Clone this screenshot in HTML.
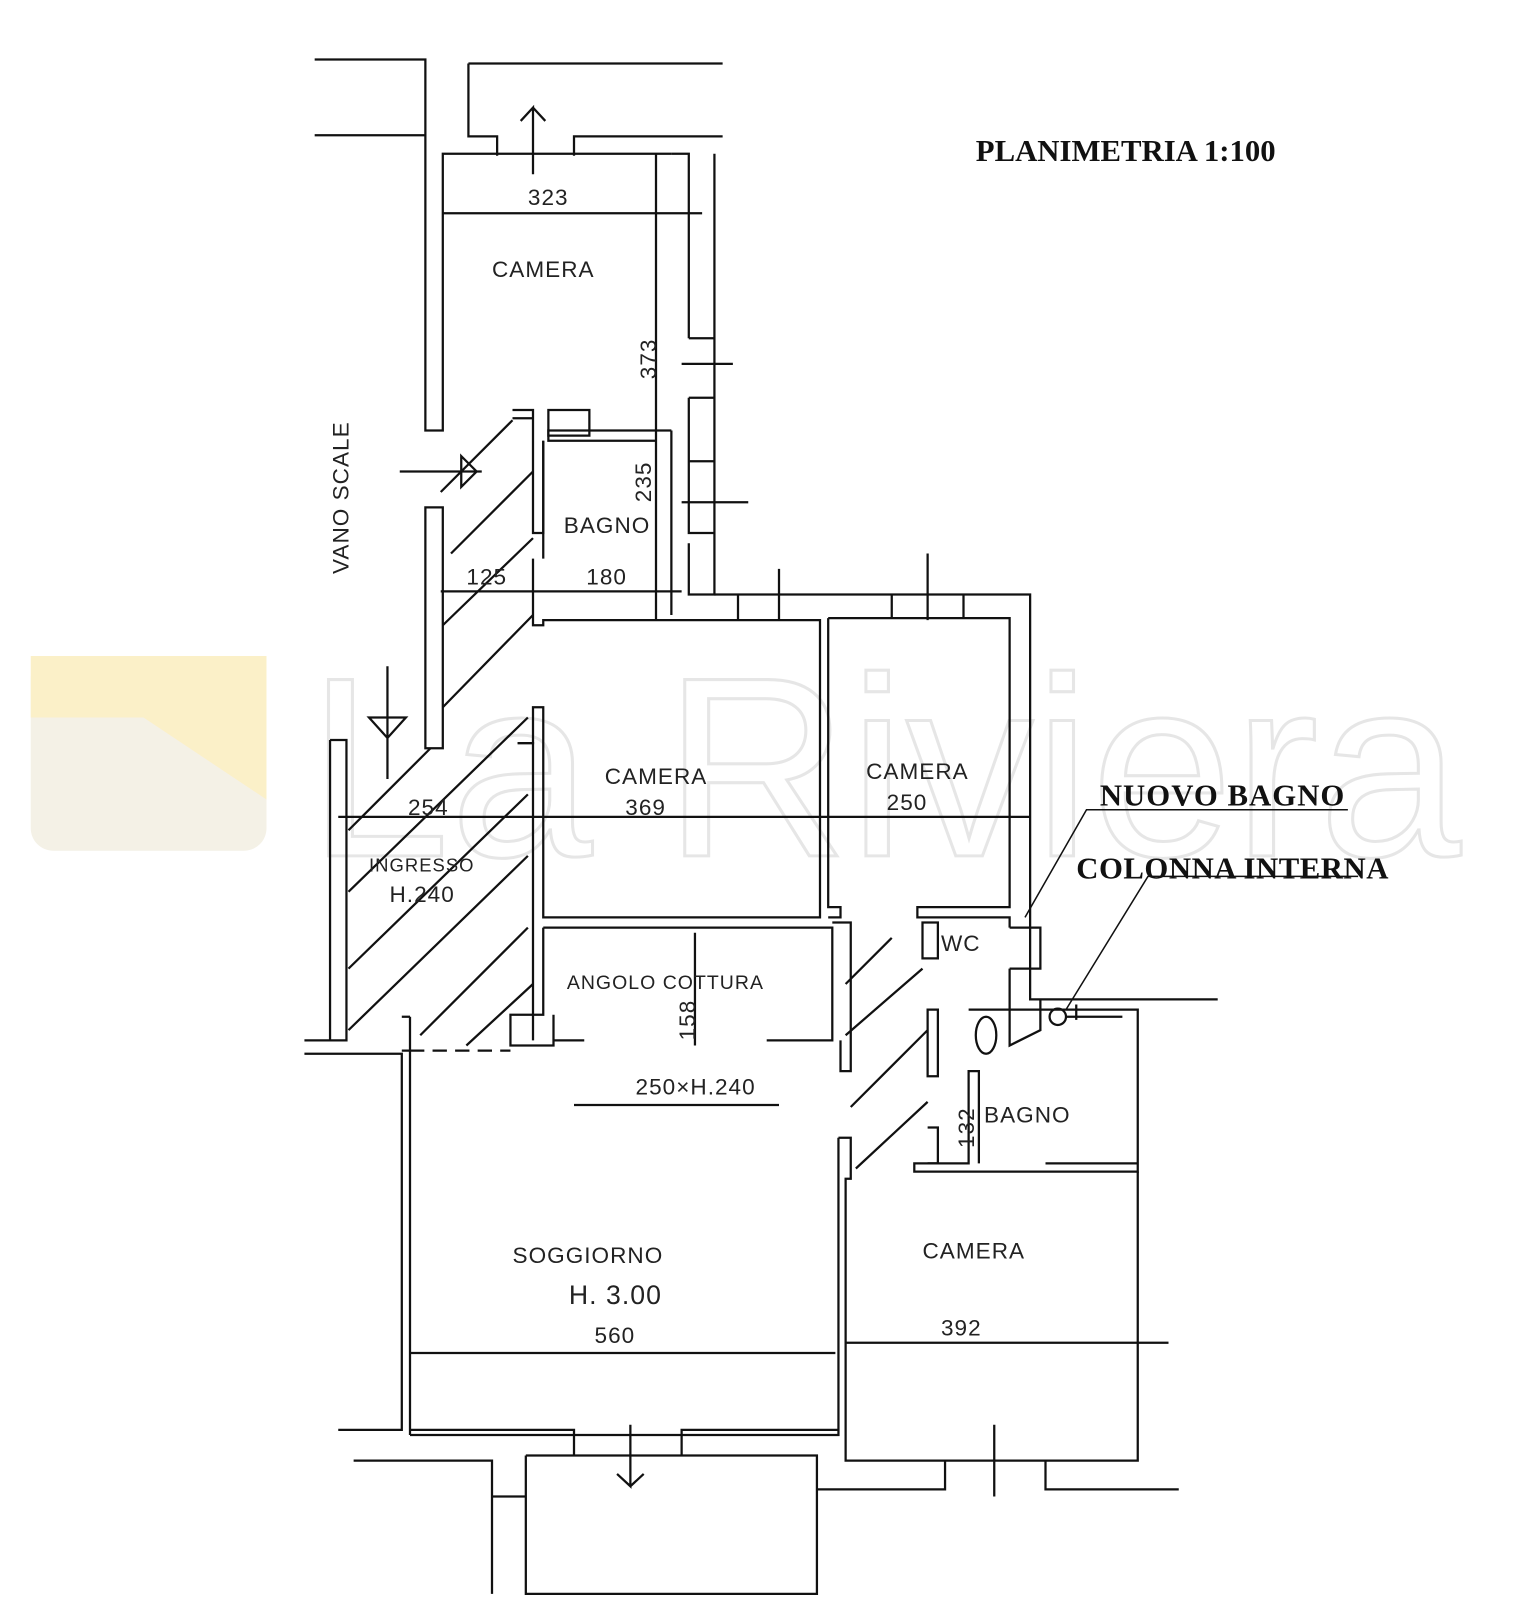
<!DOCTYPE html>
<html><head><meta charset="utf-8"><style>
html,body{margin:0;padding:0;background:#fff;}
svg{display:block}
.h{font-family:"Liberation Sans",sans-serif;font-size:22px;fill:#222;letter-spacing:1px}
.b{font-family:"Liberation Serif",serif;font-weight:bold;font-size:30px;fill:#111}
</style></head><body>
<svg width="1539" height="1600" viewBox="0 0 1539 1600" xmlns="http://www.w3.org/2000/svg">
<g transform="scale(1.025)">
<!-- watermark -->
<rect x="30" y="640" width="230" height="190" rx="22" fill="#f4f1e6"/>
<polygon points="30,640 260,640 260,780 140,700 30,700" fill="#fbf0c8"/>
<text x="300" y="835" font-family="Liberation Sans,sans-serif" font-size="250" fill="none" stroke="#e6e6e6" stroke-width="3">La Riviera</text>
<g fill="none" stroke="#111" stroke-width="2.2">
<path d="M307,58 H415 V420 H432 V150 H655"/>
<path d="M307,132 H415"/>
<path d="M457,62 H705 M457,62 V133 H485 V152 M560,152 V133 H705"/>
<path d="M655,150 H672 V330 M672,330 H697 V150 M672,388 H697 M672,388 V450 H697 V388 M672,450 V520 H697 M672,530 V580 H697 V150"/>
<path d="M640,150 V605 M655,420 H535 V430 H640"/>
<path d="M535,400 H575 V425 H535 Z"/>
<path d="M500,400 H520 V520 H530 V430 M520,520 V408 H500"/>
<path d="M530,430 V545 M520,545 V610 H530 V605 H640"/>
<path d="M415,495 H432 V730 H415 Z"/>
<path d="M697,580 H1005 V975 H1188 M720,580 V605 H640 M720,605 H800 V895 H530 V690 H520 V725 H505"/>
<path d="M808,603 H985 V885 H895 V895 H985 V905 M808,603 V885 H820 V895 H808"/>
<path d="M870,580 V603 M940,580 V603"/>
<path d="M530,905 H812 V1015 H748 M530,905 V990 H498 V1020 H540 V1015 H570 M540,990 V1015"/>
<path d="M812,900 H830 V1045 H820 V1015"/>
<path d="M322,722 H338 V1015 H297 M322,722 V1015 M297,1028 H392 V1395 H330 M400,992 V1400 M400,1025 H392 M392,992 H400"/>
<path d="M400,1025 H498" stroke-dasharray="14,8"/>
<path d="M505,725 H520 V1015"/>
<path d="M900,900 H915 V935 H900 Z M905,985 H915 V1050 H905 Z"/>
<path d="M985,905 H1015 V945 H985 M985,945 V1020 L1015,1005 V975"/>
<path d="M945,985 H1110 V1135 H1020 M1110,1135 V1143 H892 V1135 H945 V1045 H955 V1135"/>
<path d="M905,1100 H915 V1135 H905"/>
<ellipse cx="962" cy="1010" rx="10" ry="18"/>
<circle cx="1032" cy="992" r="8"/>
<path d="M1040,992 H1095 M1050,980 V995"/>
<path d="M818,1110 H830 V1150 H825 V1425 H1110 V1143 M818,1110 V1400 H400"/>
<path d="M400,1320 H815 M825,1310 H1140"/>
<path d="M400,1395 H560 V1420 M665,1420 V1395 H818"/>
<path d="M345,1425 H480 V1555 M480,1460 H513 M513,1420 H797 V1555 H513 V1420 M797,1453 H922 V1425 M1020,1425 V1453 H1150"/>
<path d="M432,208 H685 M430,577 H665 M330,797 H1005 M560,1078 H760 M678,910 V1020 M655,420 V600"/>
<path d="M665,355 H715 M665,490 H730 M760,555 V605 M905,540 V605 M970,1390 V1460 M615,1390 V1450 L602,1438 M615,1450 L628,1438"/>
<path d="M520,170 V105 L508,118 M520,105 L532,118"/>
<path d="M390,460 H470 M450,445 L465,460 L450,475 Z"/>
<path d="M378,650 V760 M360,700 H396 L378,720 Z"/>
<path d="M430,480 L500,410 M440,540 L520,460 M432,610 L520,525 M432,690 L520,600 M340,810 L420,730 M340,870 L515,700 M340,945 L515,775 M340,1005 L515,835 M410,1010 L515,905 M455,1020 L520,960 M825,960 L870,915 M825,1010 L900,945 M830,1080 L905,1005 M835,1140 L905,1075"/>
<path d="M1000,895 L1060,790 H1315 M1040,985 L1120,855 H1325" stroke-width="1.5"/>
</g>
<g class="h">
<text x="515" y="200">323</text>
<text x="480" y="270">CAMERA</text>
<text x="640" y="370" transform="rotate(-90 640 370)">373</text>
<text x="340" y="560" transform="rotate(-90 340 560)">VANO SCALE</text>
<text x="635" y="490" transform="rotate(-90 635 490)">235</text>
<text x="550" y="520">BAGNO</text>
<text x="455" y="570">125</text>
<text x="572" y="570">180</text>
<text x="590" y="765">CAMERA</text>
<text x="610" y="795">369</text>
<text x="845" y="760">CAMERA</text>
<text x="865" y="790">250</text>
<text x="398" y="795">254</text>
<text x="360" y="850" font-size="18">INGRESSO</text>
<text x="380" y="880">H.240</text>
<text x="918" y="928">WC</text>
<text x="553" y="965" font-size="19">ANGOLO COTTURA</text>
<text x="678" y="1015" transform="rotate(-90 678 1015)">158</text>
<text x="620" y="1068">250×H.240</text>
<text x="950" y="1120" transform="rotate(-90 950 1120)">132</text>
<text x="960" y="1095">BAGNO</text>
<text x="500" y="1232">SOGGIORNO</text>
<text x="555" y="1272" font-size="26">H. 3.00</text>
<text x="580" y="1310">560</text>
<text x="900" y="1228">CAMERA</text>
<text x="918" y="1303">392</text>
</g>
<text class="b" x="952" y="157">PLANIMETRIA  1:100</text>
<text class="b" x="1073" y="786" letter-spacing="1">NUOVO BAGNO</text>
<text class="b" x="1050" y="857" font-size="27" letter-spacing="0.5">COLONNA INTERNA</text>
</g>
</svg>
</body></html>
